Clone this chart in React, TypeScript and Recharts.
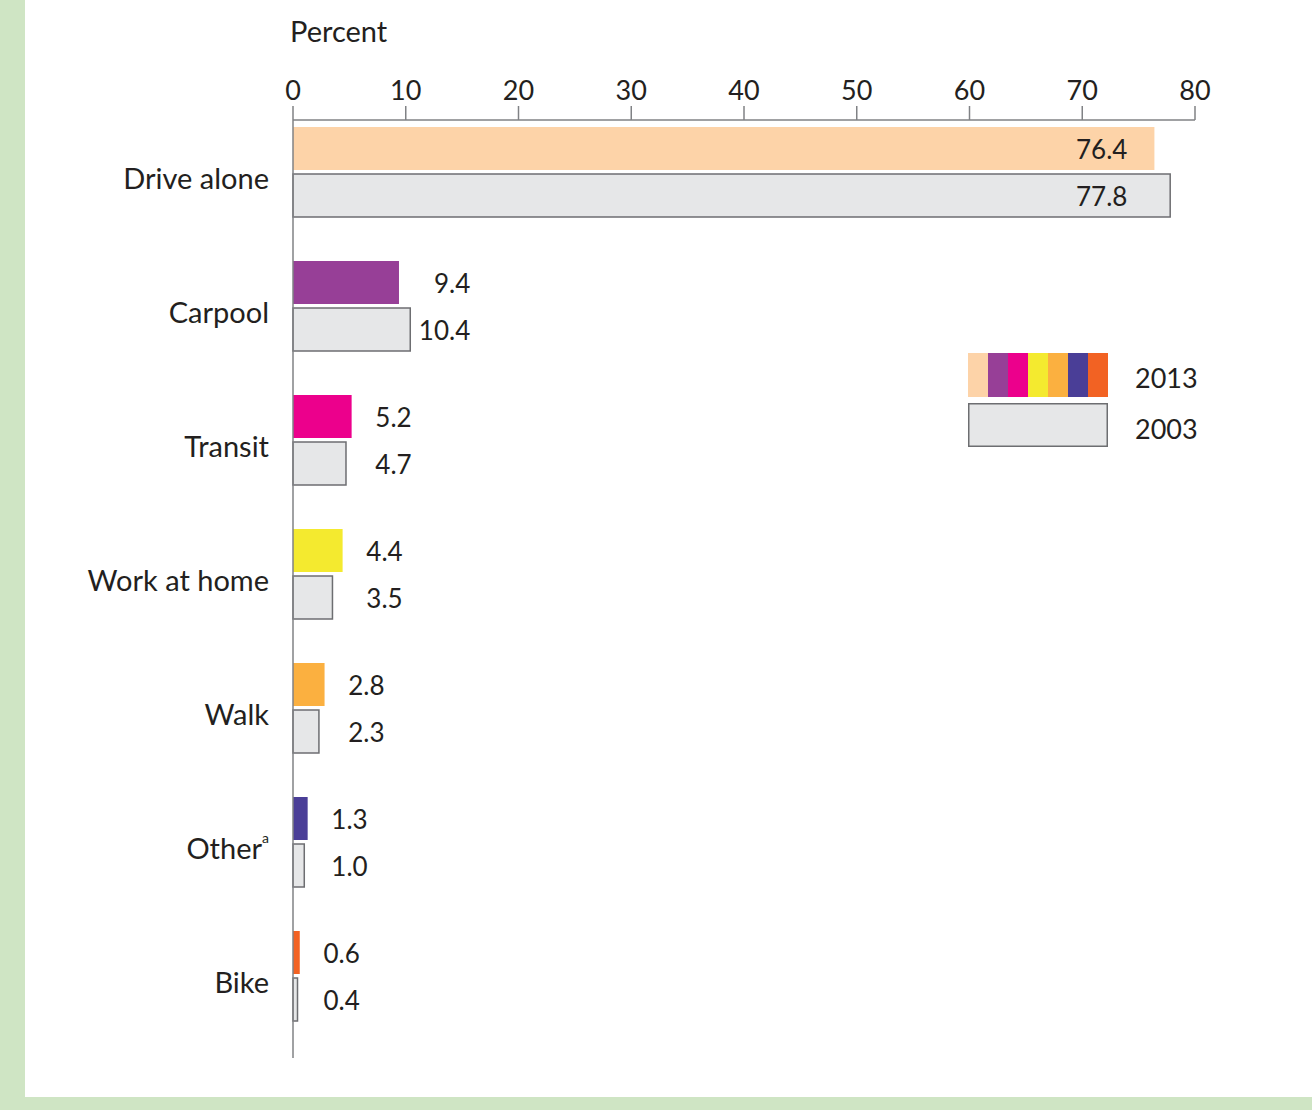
import React from 'react';
import { BarChart, Bar, XAxis, YAxis, Cell, LabelList, Legend } from 'recharts';

const modes = ['Drive alone', 'Carpool', 'Transit', 'Work at home', 'Walk', 'Othera', 'Bike'];
const share2013 = [76.4, 9.4, 5.2, 4.4, 2.8, 1.3, 0.6];
const share2003 = [77.8, 10.4, 4.7, 3.5, 2.3, 1.0, 0.4];
const modeColors = ['#fdd3a8', '#973f97', '#ec008c', '#f4ea2f', '#fbb040', '#4a3e97', '#f26223'];
const percentTicks = [0, 10, 20, 30, 40, 50, 60, 70, 80];

const data = modes.map((mode, i) => ({ mode, y2013: share2013[i], y2003: share2003[i] }));

const FONT = 'Lato, "Open Sans", sans-serif';
const INK = '#231f20';
const AXIS = '#808285';
const GREY_FILL = '#e6e7e8';
const GREY_STROKE = '#6d6e71';

const ModeTick = ({ x, y, payload }: any) => {
  const label: string = payload.value;
  const hasNote = label === 'Othera';
  return (
    <text x={x - 16} y={y - 10} textAnchor="end" dominantBaseline="central" fontSize={29} fill={INK} fontFamily={FONT}>
      {hasNote ? 'Other' : label}
      {hasNote && (
        <tspan fontSize={14} dy={-10}>a</tspan>
      )}
    </text>
  );
};

// values sit right of the longer bar, or inside the bar when it is very long
const makeValueLabel = (series: number[]) => (props: any) => {
  const { x, y, width, height, index } = props;
  const value = series[index];
  if (!value) return null;
  const ppu = width / value;
  const a = share2013[index];
  const b = share2003[index];
  let tx: number;
  if (Math.max(a, b) > 50) {
    tx = x + Math.min(a, b) * ppu - 27;
  } else {
    tx = x + Math.max(a, b) * ppu + 60;
  }
  return (
    <text x={tx} y={y + height / 2} textAnchor="end" dominantBaseline="central" fontSize={26} fill={INK} fontFamily={FONT}>
      {value.toFixed(1)}
    </text>
  );
};

const YearLegend = () => (
  <div style={{ position: 'relative', width: 240, height: 96, fontFamily: FONT, color: INK }}>
    <svg width={142} height={96} style={{ position: 'absolute', left: 0, top: 0 }}>
      {modeColors.map((c, i) => (
        <rect key={c} x={i * 20} y={0} width={20} height={44} fill={c} />
      ))}
      <rect x={0.75} y={50.75} width={138.5} height={42.5} fill={GREY_FILL} stroke={GREY_STROKE} strokeWidth={1.5} />
    </svg>
    <div style={{ position: 'absolute', left: 167, top: 8, fontSize: 27 }}>2013</div>
    <div style={{ position: 'absolute', left: 167, top: 59, fontSize: 27 }}>2003</div>
  </div>
);

export default function App() {
  return (
    <div style={{ position: 'absolute', left: 0, top: 0, width: 1312, height: 1110, background: '#cfe5c4' }}>
      <div style={{ position: 'absolute', left: 25, top: 0, width: 1287, height: 1097, background: '#ffffff' }} />
      <div style={{ position: 'absolute', left: 290, top: 13, fontSize: 29, fontFamily: FONT, color: INK }}>Percent</div>
      <div style={{ position: 'absolute', left: 0, top: 0 }}>
        <BarChart
          width={1312}
          height={1110}
          data={data}
          layout="vertical"
          margin={{ top: 80, right: 117, bottom: 52, left: 0 }}
        >
          <XAxis
            type="number"
            orientation="top"
            domain={[0, 80]}
            ticks={percentTicks}
            height={40}
            axisLine={{ stroke: AXIS, strokeWidth: 1.5 }}
            tickLine={{ stroke: AXIS, strokeWidth: 1.5 }}
            tickSize={14}
            tickMargin={6}
            tick={{ fill: INK, fontSize: 27, fontFamily: FONT }}
          />
          <YAxis
            type="category"
            dataKey="mode"
            width={293}
            axisLine={{ stroke: AXIS, strokeWidth: 1.5 }}
            tickLine={false}
            tick={<ModeTick />}
          />
          <Legend
            layout="horizontal"
            verticalAlign="middle"
            align="center"
            content={<YearLegend />}
            wrapperStyle={{ left: 968, top: 353, width: 240, height: 96 }}
          />
          <Bar dataKey="y2013" barSize={43} isAnimationActive={false}>
            {data.map((d, i) => (
              <Cell key={d.mode} fill={modeColors[i]} />
            ))}
            <LabelList dataKey="y2013" content={makeValueLabel(share2013)} />
          </Bar>
          <Bar dataKey="y2003" barSize={43} fill={GREY_FILL} stroke={GREY_STROKE} strokeWidth={1.5} isAnimationActive={false}>
            <LabelList dataKey="y2003" content={makeValueLabel(share2003)} />
          </Bar>
          {/* empty slot keeps the pair near the top of each band */}
          <Bar dataKey="spacer" barSize={26} legendType="none" isAnimationActive={false} />
        </BarChart>
      </div>
    </div>
  );
}
